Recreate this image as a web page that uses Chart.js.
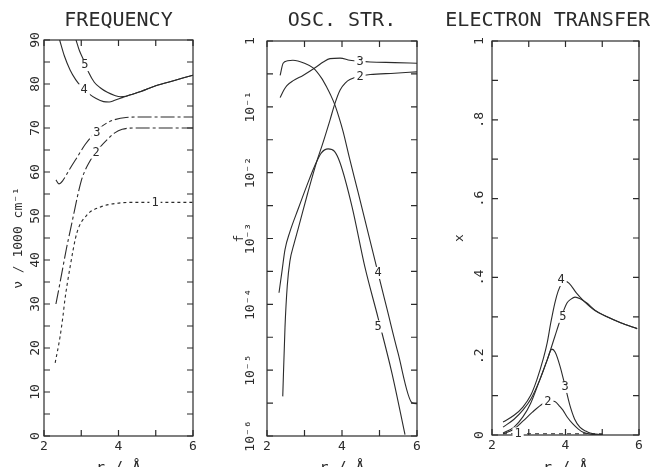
<!DOCTYPE html>
<html>
<head>
<meta charset="utf-8">
<script src="https://cdn.jsdelivr.net/npm/chart.js@4"></script>
<style>
html, body { margin: 0; padding: 0; background: #fff; overflow: hidden; width: 652px; height: 467px; }
.panel { position: absolute; top: 0; height: 485px; }
#p1 { left: 0; width: 215px; }
#p2 { left: 215px; width: 215px; }
#p3 { left: 430px; width: 222px; }
</style>
</head>
<body>
<div class="panel" id="p1"><canvas id="freqChart"></canvas></div>
<div class="panel" id="p2"><canvas id="oscChart"></canvas></div>
<div class="panel" id="p3"><canvas id="etChart"></canvas></div>
<script>
// shared r axis (Å)
const rTicks = [2, 4, 6];
const rMinorTicks = [2, 3, 4, 5, 6];

// FREQUENCY (1000 cm-1)
const freqTicks = [0, 10, 20, 30, 40, 50, 60, 70, 80, 90];
const freqMinorTicks = [0, 5, 10, 15, 20, 25, 30, 35, 40, 45, 50, 55, 60, 65, 70, 75, 80, 85, 90];
const freq1X = [2.30, 2.43, 2.51, 2.56, 2.70, 2.88, 3.15, 3.50, 3.96, 4.50, 5.00, 6.00];
const freq1Y = [16.6, 22.5, 27.3, 30.9, 38.4, 46.1, 50.2, 52.0, 52.9, 53.1, 53.1, 53.1];
const freq2X = [2.32, 2.40, 2.50, 2.60, 2.70, 2.80, 2.90, 3.00, 3.10, 3.20, 3.35, 3.50, 3.70, 3.90, 4.10, 4.40, 5.00, 6.00];
const freq2Y = [30.0, 33.5, 38.0, 42.5, 46.5, 50.5, 54.5, 58.0, 60.3, 62.0, 64.0, 65.6, 67.4, 68.9, 69.7, 70.0, 70.0, 70.0];
const freq3X = [2.32, 2.40, 2.50, 2.70, 2.90, 3.10, 3.30, 3.50, 3.70, 3.90, 4.20, 4.60, 5.00, 6.00];
const freq3Y = [58.2, 57.3, 58.0, 60.8, 63.5, 66.2, 68.3, 70.0, 71.2, 71.9, 72.4, 72.5, 72.5, 72.5];
const freq4X = [2.42, 2.55, 2.70, 2.85, 3.00, 3.20, 3.40, 3.60, 3.75, 3.90, 4.10, 4.30, 4.60, 5.00, 5.50, 6.00];
const freq4Y = [90.0, 86.3, 83.2, 81.0, 79.4, 77.8, 76.7, 76.0, 75.9, 76.3, 76.9, 77.5, 78.3, 79.6, 80.8, 82.0];
const freq5X = [2.86, 2.95, 3.06, 3.20, 3.35, 3.50, 3.70, 3.90, 4.05, 4.20, 4.30, 4.60, 5.00, 5.50, 6.00];
const freq5Y = [90.0, 87.6, 85.5, 82.6, 80.4, 79.2, 78.1, 77.4, 77.1, 77.2, 77.5, 78.3, 79.6, 80.8, 82.0];
const freqNames = ["1", "2", "3", "4", "5"];
const freqLabelX = [4.98, 3.40, 3.42, 3.08, 3.10];
const freqLabelY = [53.0, 64.4, 69.0, 78.6, 84.3];

// OSC. STR. (f, log scale)
const oscTicks = [1e-6, 1e-5, 1e-4, 1e-3, 1e-2, 1e-1, 1];
const oscTickLabels = ["10⁻⁶", "10⁻⁵", "10⁻⁴", "10⁻³", "10⁻²", "10⁻¹", "1"];
const oscMinorTicks = [1e-6, 3.16e-6, 1e-5, 3.16e-5, 1e-4, 3.16e-4, 1e-3, 3.16e-3, 1e-2, 3.16e-2, 1e-1, 3.16e-1, 1];
const osc2X = [2.42, 2.48, 2.54, 2.61, 2.72, 2.83, 3.09, 3.33, 3.47, 3.68, 3.81, 3.95, 4.10, 4.21, 4.50, 4.75, 5.40, 6.00];
const osc2Y = [4.0e-6, 4.5e-5, 1.9e-4, 4.5e-4, 8.3e-4, 1.4e-3, 5.0e-3, 1.5e-2, 2.6e-2, 6.3e-2, 1.12e-1, 1.8e-1, 2.34e-1, 2.6e-1, 2.95e-1, 3.1e-1, 3.24e-1, 3.4e-1];
const osc3X = [2.35, 2.45, 2.53, 2.70, 2.96, 3.15, 3.33, 3.50, 3.68, 3.95, 4.21, 4.50, 4.75, 5.40, 6.00];
const osc3Y = [0.138, 0.18, 0.21, 0.25, 0.30, 0.35, 0.41, 0.48, 0.54, 0.55, 0.51, 0.49, 0.48, 0.47, 0.46];
const osc4X = [2.35, 2.43, 2.55, 2.69, 3.00, 3.23, 3.45, 3.60, 3.70, 3.81, 3.92, 4.03, 4.20, 4.43, 4.70, 4.96, 5.20, 5.49, 5.87, 6.00];
const osc4Y = [0.30, 0.46, 0.50, 0.51, 0.46, 0.39, 0.275, 0.195, 0.15, 0.107, 6.9e-2, 4.2e-2, 1.66e-2, 5.0e-3, 1.2e-3, 3.0e-4, 8.5e-5, 1.86e-5, 3.2e-6, 3.1e-6];
const osc5X = [2.32, 2.40, 2.48, 2.61, 2.83, 3.06, 3.28, 3.45, 3.63, 3.80, 3.95, 4.27, 4.61, 4.96, 5.33, 5.68];
const osc5Y = [1.5e-4, 3.2e-4, 6.8e-4, 1.26e-3, 2.8e-3, 6.3e-3, 1.3e-2, 2.0e-2, 2.3e-2, 2.1e-2, 1.4e-2, 3.0e-3, 3.7e-4, 6.3e-5, 9.1e-6, 1.05e-6];
const oscNames = ["2", "3", "4", "5"];
const oscLabelX = [4.48, 4.48, 4.96, 4.96];
const oscLabelY = [0.29, 0.49, 3.0e-4, 4.6e-5];

// ELECTRON TRANSFER (x)
const etTicks = [0, 0.2, 0.4, 0.6, 0.8, 1];
const etTickLabels = ["0", ".2", ".4", ".6", ".8", "1"];
const etMinorTicks = [0, 0.1, 0.2, 0.3, 0.4, 0.5, 0.6, 0.7, 0.8, 0.9, 1];
const et1X = [2.30, 3.00, 4.00, 5.00];
const et1Y = [0.003, 0.003, 0.003, 0.003];
const et2X = [2.30, 2.60, 2.84, 3.10, 3.39, 3.55, 3.71, 3.85, 3.93, 4.05, 4.20, 4.35, 4.48, 4.70, 5.00];
const et2Y = [0.003, 0.015, 0.035, 0.058, 0.080, 0.087, 0.085, 0.072, 0.063, 0.045, 0.028, 0.015, 0.007, 0.002, 0.0];
const et3X = [2.30, 2.60, 2.84, 3.05, 3.30, 3.50, 3.63, 3.72, 3.85, 4.00, 4.12, 4.25, 4.39, 4.55, 4.67, 5.00];
const et3Y = [0.005, 0.020, 0.046, 0.080, 0.140, 0.190, 0.218, 0.210, 0.175, 0.120, 0.075, 0.040, 0.020, 0.010, 0.005, 0.001];
const et4X = [2.30, 2.60, 2.84, 3.05, 3.22, 3.40, 3.50, 3.60, 3.71, 3.80, 3.90, 4.00, 4.10, 4.30, 4.50, 4.80, 5.13, 5.50, 5.95];
const et4Y = [0.033, 0.050, 0.071, 0.100, 0.140, 0.195, 0.233, 0.285, 0.335, 0.365, 0.385, 0.390, 0.385, 0.360, 0.340, 0.316, 0.300, 0.285, 0.270];
const et5X = [2.30, 2.60, 2.84, 3.05, 3.30, 3.50, 3.71, 3.85, 4.04, 4.15, 4.26, 4.40, 4.58, 4.80, 5.13, 5.50, 5.95];
const et5Y = [0.020, 0.040, 0.063, 0.090, 0.140, 0.190, 0.250, 0.290, 0.335, 0.345, 0.350, 0.346, 0.335, 0.317, 0.300, 0.285, 0.270];
const etNames = ["1", "2", "3", "4", "5"];
const etLabelX = [2.71, 3.52, 3.99, 3.88, 3.93];
const etLabelY = [0.004, 0.084, 0.122, 0.393, 0.300];

const INK = "#2b2b2b";
const MONO = '"DejaVu Sans Mono", "Liberation Mono", monospace';
Chart.defaults.font.family = MONO;
Chart.defaults.color = INK;

function points(xs, ys) {
    return xs.map((x, i) => ({ x: x, y: ys[i] }));
}

function curve(xs, ys, dash) {
    return {
        data: points(xs, ys),
        borderColor: INK,
        borderWidth: 1.1,
        borderDash: dash || [],
        pointRadius: 0,
        fill: false,
        cubicInterpolationMode: "monotone"
    };
}

// frame + inward ticks on all four sides
const frameTicks = {
    id: "frameTicks",
    afterDatasetsDraw(chart, args, opts) {
        const { ctx, chartArea: a, scales: { x, y } } = chart;
        const len = 6;
        ctx.save();
        ctx.strokeStyle = INK;
        ctx.lineWidth = 1.2;
        ctx.strokeRect(a.left, a.top, a.right - a.left, a.bottom - a.top);
        ctx.beginPath();
        opts.xValues.forEach(v => {
            const px = x.getPixelForValue(v);
            ctx.moveTo(px, a.bottom); ctx.lineTo(px, a.bottom - len);
            ctx.moveTo(px, a.top); ctx.lineTo(px, a.top + len);
        });
        opts.yValues.forEach(v => {
            const py = y.getPixelForValue(v);
            ctx.moveTo(a.left, py); ctx.lineTo(a.left + len, py);
            ctx.moveTo(a.right, py); ctx.lineTo(a.right - len, py);
        });
        ctx.stroke();
        ctx.restore();
    }
};

// numbers written on the curves, with a small gap cut in the line
const curveLabels = {
    id: "curveLabels",
    afterDatasetsDraw(chart, args, opts) {
        const { ctx, scales: { x, y } } = chart;
        ctx.save();
        ctx.font = "12px " + MONO;
        ctx.textAlign = "center";
        ctx.textBaseline = "middle";
        opts.names.forEach((name, i) => {
            const px = x.getPixelForValue(opts.xs[i]);
            const py = y.getPixelForValue(opts.ys[i]);
            const w = ctx.measureText(name).width + 4;
            ctx.fillStyle = "#fff";
            ctx.fillRect(px - w / 2, py - 6, w, 12);
            ctx.fillStyle = INK;
            ctx.fillText(name, px, py);
        });
        ctx.restore();
    }
};

// panel heading, kept inside the canvas
const panelTitle = {
    id: "panelTitle",
    afterDraw(chart, args, opts) {
        const { ctx, chartArea: a, width } = chart;
        ctx.save();
        ctx.font = "20px " + MONO;
        ctx.fillStyle = INK;
        ctx.textAlign = "center";
        ctx.textBaseline = "middle";
        const w = ctx.measureText(opts.text).width;
        const cx = Math.min((a.left + a.right) / 2, width - w / 2 - 2);
        ctx.fillText(opts.text, cx, 21);
        ctx.restore();
    }
};

function makeChart(id, cfg) {
    const ctx = document.getElementById(id).getContext("2d");
    return new Chart(ctx, {
        type: "line",
        data: { datasets: cfg.datasets },
        options: {
            responsive: true,
            maintainAspectRatio: false,
            animation: false,
            layout: { padding: { left: 0, right: cfg.padRight, top: cfg.top, bottom: 0 } },
            plugins: {
                legend: { display: false },
                tooltip: { enabled: false },
                frameTicks: { xValues: rMinorTicks, yValues: cfg.yMinor },
                curveLabels: cfg.labels,
                panelTitle: { text: cfg.title }
            },
            scales: {
                x: {
                    type: "linear",
                    min: 2,
                    max: 6,
                    grid: { display: false, drawTicks: false },
                    border: { display: false },
                    afterBuildTicks: s => { s.ticks = rTicks.map(v => ({ value: v })); },
                    afterFit: s => { s.height = 485 - cfg.bottom; },
                    ticks: { font: { size: 13 }, padding: 3, maxRotation: 0, autoSkip: false },
                    title: { display: true, text: "r / Å", font: { size: 15 }, padding: { top: 0, bottom: 7 } }
                },
                y: Object.assign({
                    grid: { display: false, drawTicks: false },
                    border: { display: false },
                    afterBuildTicks: s => { s.ticks = cfg.yTicks.map(v => ({ value: v })); },
                    afterFit: s => { s.width = cfg.yWidth; },
                    ticks: {
                        font: { size: 13 },
                        padding: cfg.tickPad,
                        minRotation: 90,
                        maxRotation: 90,
                        crossAlign: "center",
                        autoSkip: false,
                        callback: cfg.tickText
                    },
                    title: { display: true, text: cfg.yTitle, font: { size: 13 }, padding: { top: cfg.titlePad, bottom: 0 } }
                }, cfg.yScale)
            }
        },
        plugins: [frameTicks, curveLabels, panelTitle]
    });
}

document.addEventListener("DOMContentLoaded", function () {
    makeChart("freqChart", {
        title: "FREQUENCY",
        datasets: [
            curve(freq1X, freq1Y, [3, 3]),
            curve(freq2X, freq2Y, [14, 3, 3, 3]),
            curve(freq3X, freq3Y, [14, 3, 3, 3]),
            curve(freq4X, freq4Y),
            curve(freq5X, freq5Y)
        ],
        labels: { names: freqNames, xs: freqLabelX, ys: freqLabelY },
        yScale: { type: "linear", min: 0, max: 90 },
        yTicks: freqTicks,
        yMinor: freqMinorTicks,
        tickText: v => String(v),
        yTitle: "ν / 1000 cm⁻¹",
        padRight: 22, top: 40, bottom: 436, yWidth: 44, tickPad: 1, titlePad: 11
    });

    makeChart("oscChart", {
        title: "OSC. STR.",
        datasets: [
            curve(osc2X, osc2Y),
            curve(osc3X, osc3Y),
            curve(osc4X, osc4Y),
            curve(osc5X, osc5Y)
        ],
        labels: { names: oscNames, xs: oscLabelX, ys: oscLabelY },
        yScale: { type: "logarithmic", min: 1e-6, max: 1 },
        yTicks: oscTicks,
        yMinor: oscMinorTicks,
        tickText: v => oscTickLabels[oscTicks.indexOf(v)],
        yTitle: "f",
        padRight: 13, top: 41, bottom: 436, yWidth: 52, tickPad: 1, titlePad: 17
    });

    makeChart("etChart", {
        title: "ELECTRON TRANSFER",
        datasets: [
            curve(et1X, et1Y, [4, 4]),
            curve(et2X, et2Y),
            curve(et3X, et3Y),
            curve(et4X, et4Y),
            curve(et5X, et5Y)
        ],
        labels: { names: etNames, xs: etLabelX, ys: etLabelY },
        yScale: { type: "linear", min: 0, max: 1 },
        yTicks: etTicks,
        yMinor: etMinorTicks,
        tickText: v => etTickLabels[etTicks.indexOf(v)],
        yTitle: "x",
        padRight: 13, top: 41, bottom: 435, yWidth: 62, tickPad: 5, titlePad: 22
    });
});
</script>
</body>
</html>
